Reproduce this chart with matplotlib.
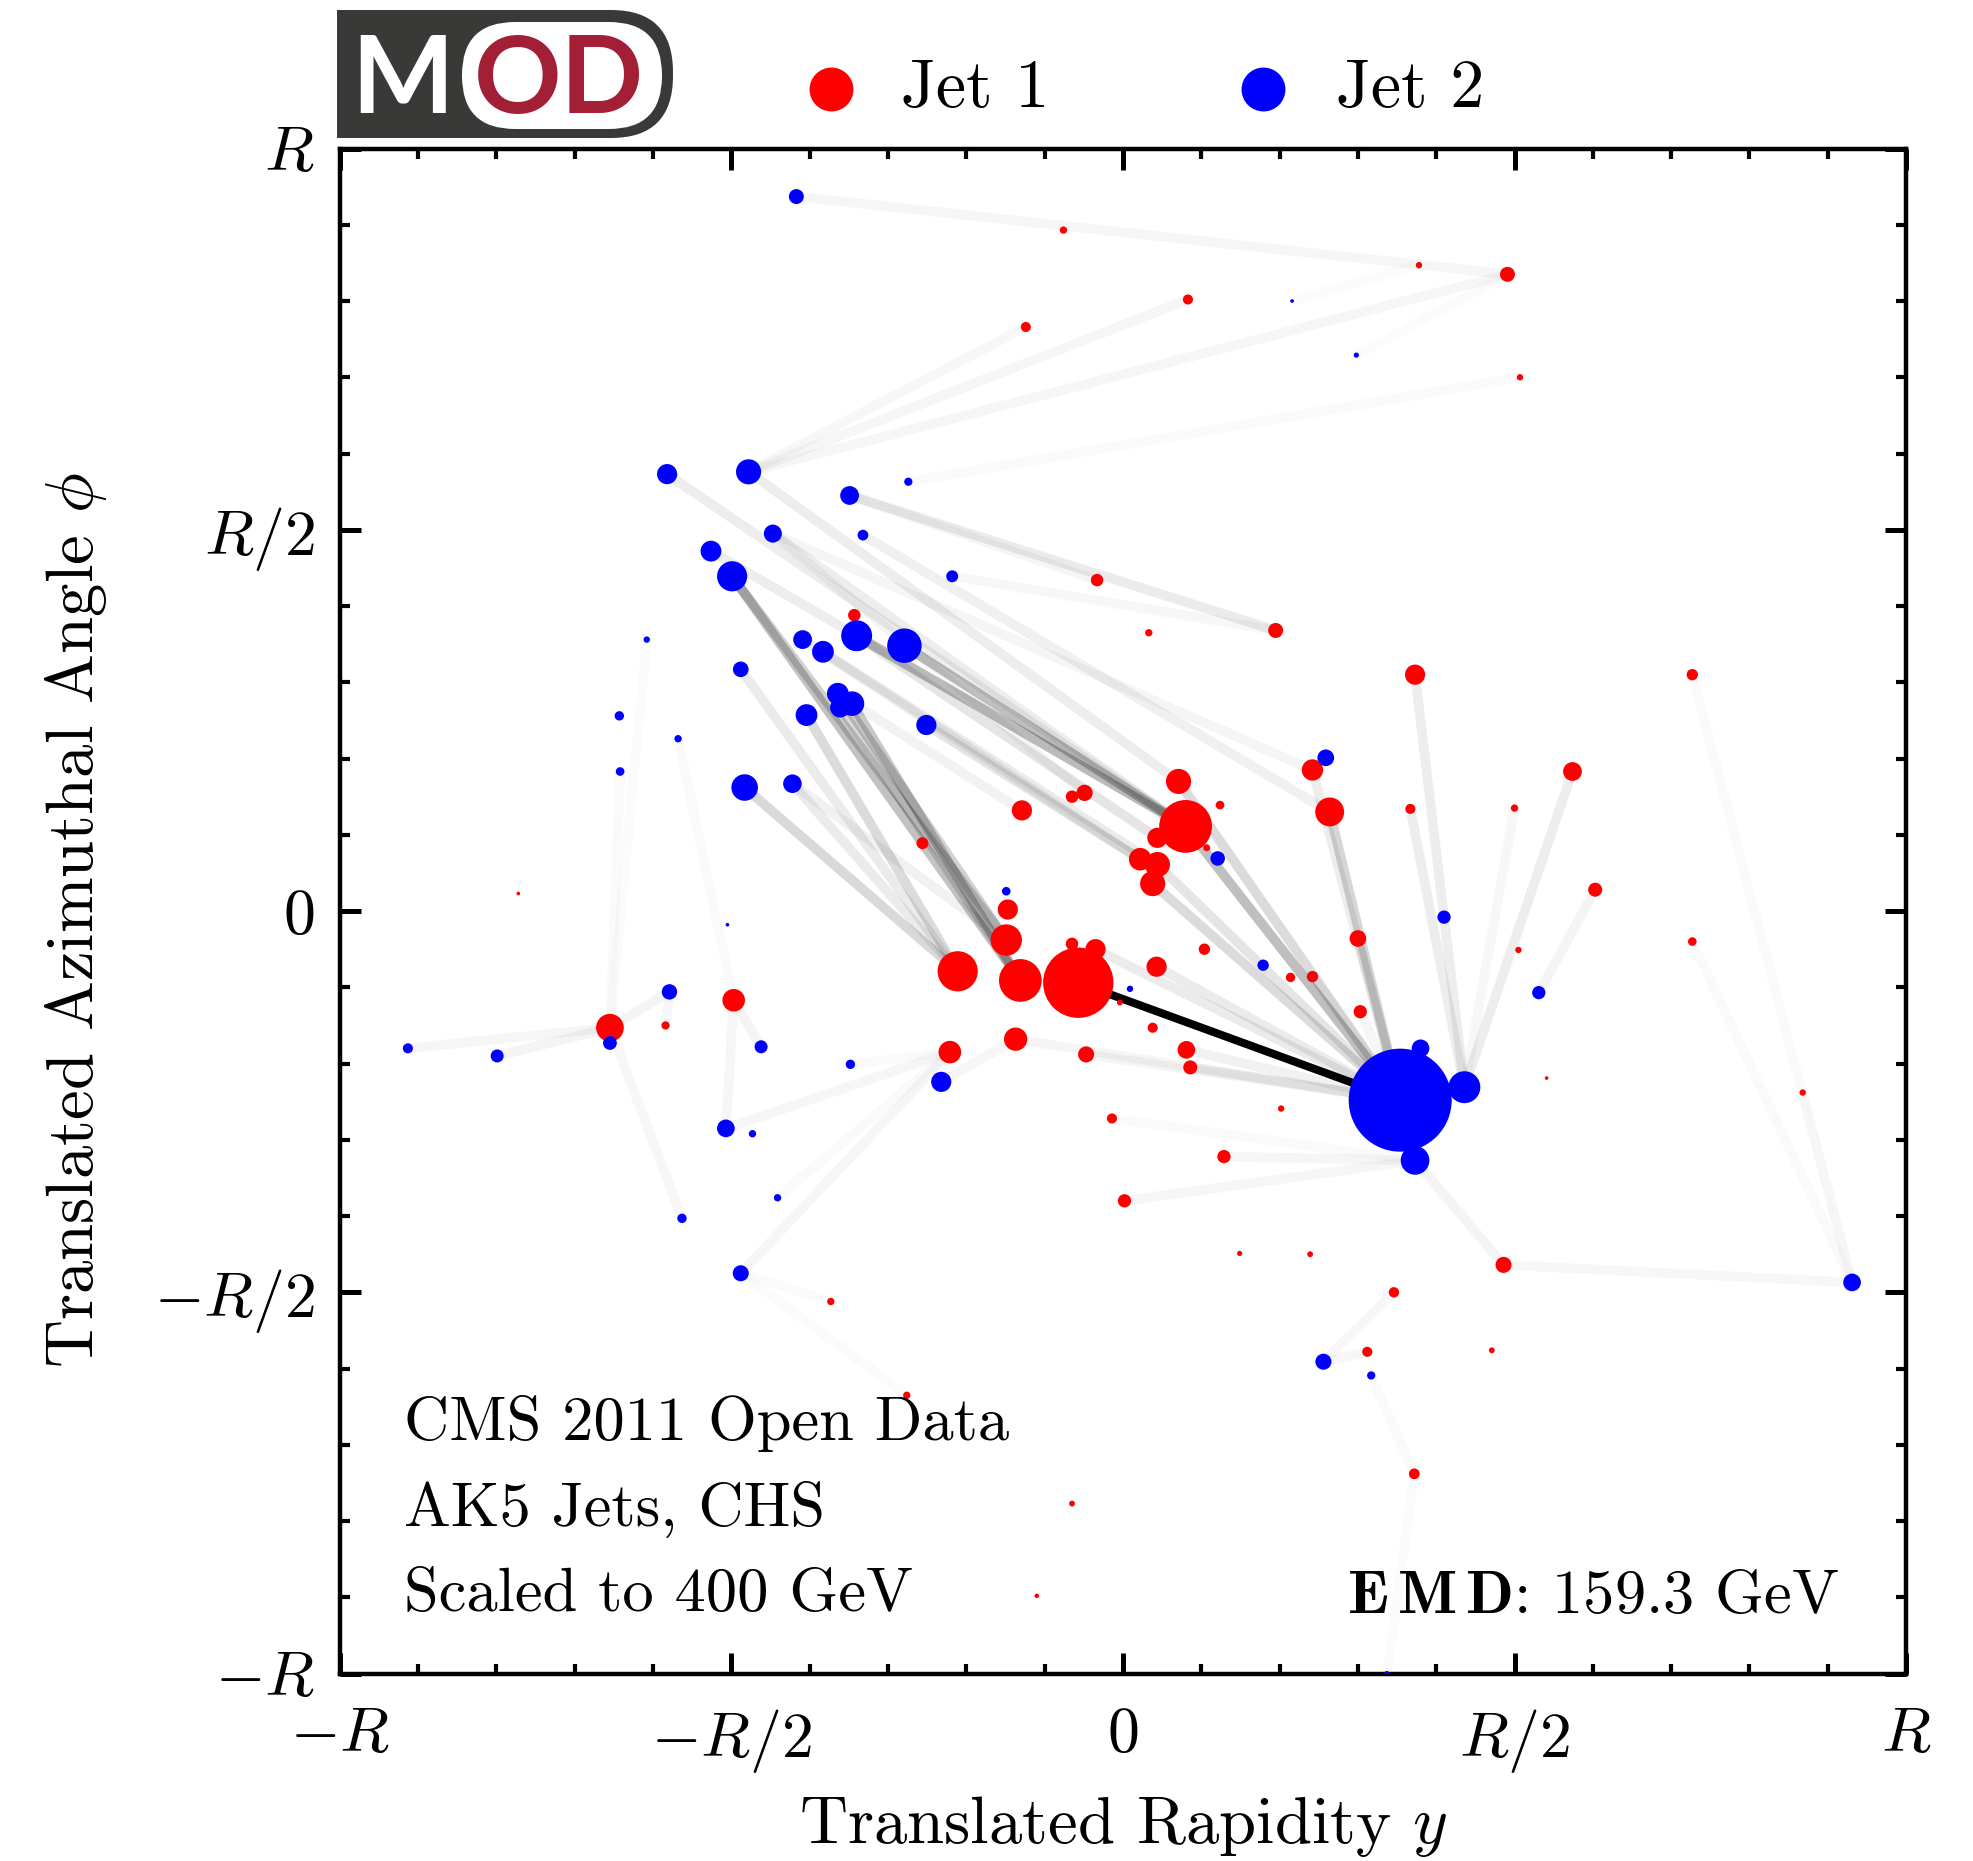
import matplotlib.pyplot as plt
from matplotlib.lines import Line2D
from matplotlib.patches import FancyBboxPatch, Rectangle
from matplotlib.ticker import MultipleLocator

plt.rcParams['font.family'] = 'serif'
plt.rcParams['font.serif'] = ['cmr10']
plt.rcParams['mathtext.fontset'] = 'cm'
plt.rcParams['axes.unicode_minus'] = False

# jet 1 particles (rapidity, azimuth in units of R, pT in GeV)
j1_y = [-0.076, 0.378, 0.491, 0.083, -0.124, 0.507, -0.033, 0.033, 0.195, -0.343,
        0.373, 0.727, 0.242, 0.574, 0.071, 0.264, 0.080, 0.044, -0.065, -0.049,
        0.124, 0.022, 0.044, 0.038, 0.107, -0.129, -0.147, -0.149, -0.211, -0.131,
        -0.057, -0.065, -0.035, 0.043, 0.104, 0.214, 0.242, 0.300, 0.303, 0.367,
        -0.004, 0.038, 0.081, 0.086, -0.047, -0.137, -0.221, 0.202, -0.014, 0.129,
        0.002, -0.256, 0.603, 0.505, 0.727, 0.541, 0.239, 0.486, 0.346, 0.149,
        0.312, 0.471, 0.372, -0.276, -0.065, -0.110, -0.772, -0.655, -0.584, -0.497,
        -0.373, 0.868, 0.500]
j1_phi = [0.893, 0.847, 0.835, 0.802, 0.766, 0.700, 0.434, 0.365, 0.368, 0.388,
          0.310, 0.310, 0.185, 0.183, 0.170, 0.130, 0.111, 0.096, 0.150, 0.155,
          0.139, 0.068, 0.061, 0.036, 0.083, 0.132, 0.002, -0.038, -0.079, -0.091,
          -0.094, -0.043, -0.050, -0.073, -0.050, -0.087, -0.086, -0.036, -0.132, 0.134,
          -0.120, -0.153, -0.182, -0.205, -0.188, -0.168, -0.185, -0.259, -0.272, -0.322,
          -0.380, 0.089, 0.028, -0.051, -0.040, -0.219, -0.450, -0.464, -0.500, -0.449,
          -0.578, -0.576, -0.738, -0.635, -0.777, -0.898, 0.023, -0.153, -0.150, -0.117,
          -0.512, -0.238, 0.135]
j1_pt = [0.8, 0.6, 3.3, 1.5, 1.5, 0.6, 2.3, 0.8, 3.3, 2.3,
         6.0, 1.9, 6.7, 5.2, 9.3, 12.3, 41.0, 6.0, 2.3, 3.9,
         1.1, 7.5, 9.3, 9.3, 0.7, 6.0, 6.0, 14.5, 23.8, 26.9,
         72.9, 2.3, 6.0, 6.0, 1.9, 1.3, 1.9, 4.1, 2.6, 1.5,
         0.5, 1.5, 4.6, 2.9, 3.8, 8.0, 7.5, 0.6, 1.5, 2.6,
         2.6, 2.1, 2.9, 0.6, 1.1, 0.2, 0.5, 3.8, 1.6, 0.4,
         1.5, 0.5, 1.7, 0.8, 0.5, 0.3, 0.2, 11.3, 1.0, 7.5,
         0.8, 0.6, 0.8]

# jet 2 particles
j2_y = [-0.417, -0.582, -0.478, -0.349, -0.274, -0.447, -0.332, -0.526, -0.499, -0.218,
        -0.608, -0.409, -0.383, -0.340, -0.279, -0.488, -0.643, -0.568, -0.642, -0.364,
        -0.346, -0.361, -0.404, -0.251, -0.483, -0.422, -0.149, 0.259, 0.121, 0.410,
        0.179, 0.009, 0.354, 0.373, 0.380, 0.436, 0.531, -0.232, -0.913, -0.799,
        -0.655, -0.579, -0.505, -0.462, -0.348, -0.507, -0.473, -0.441, -0.563, -0.488,
        0.256, 0.317, 0.337, 0.216, 0.298, 0.931]
j2_phi = [0.937, 0.573, 0.576, 0.545, 0.563, 0.495, 0.493, 0.472, 0.439, 0.439,
          0.356, 0.356, 0.340, 0.361, 0.348, 0.317, 0.256, 0.226, 0.183, 0.285,
          0.272, 0.267, 0.257, 0.244, 0.162, 0.167, 0.026, 0.201, 0.069, -0.008,
          -0.071, -0.102, -0.248, -0.327, -0.180, -0.231, -0.107, -0.224, -0.180, -0.190,
          -0.173, -0.106, -0.018, -0.178, -0.201, -0.285, -0.292, -0.376, -0.403, -0.475,
          -0.591, -0.609, -1.0, 0.800, 0.729, -0.487]
j2_pt = [3.3, 6.0, 9.3, 5.2, 1.0, 4.8, 1.7, 6.4, 13.4, 2.1,
         0.6, 5.2, 7.0, 14.1, 17.5, 3.6, 1.3, 0.8, 1.1, 7.0,
         8.9, 6.0, 7.0, 6.0, 10.4, 5.1, 1.1, 4.1, 3.1, 2.6,
         1.9, 0.6, 156.3, 12.1, 4.6, 15.0, 2.6, 6.0, 1.5, 2.5,
         2.8, 3.5, 0.2, 2.5, 1.3, 4.6, 0.8, 0.8, 1.3, 3.8,
         3.8, 1.0, 0.4, 0.2, 0.4, 4.6]

# EMD flows: jet 1 index, jet 2 index, relative flow
flow_j1 = [30, 2, 2, 3, 4, 5, 1, 8, 6, 8, 14, 16, 16, 16, 16, 16, 12, 15, 29, 27,
           29, 27, 29, 28, 28, 28, 28, 21, 22, 21, 17, 25, 16, 14, 23, 22, 32, 33, 15, 12,
           37, 42, 43, 44, 45, 36, 38, 10, 39, 13, 72, 52, 49, 50, 48, 57, 57, 11, 54, 71,
           58, 60, 62, 62, 45, 46, 46, 46, 46, 67, 67, 67, 67, 67, 67, 68, 69, 69, 69, 63,
           70, 19, 27, 2]
flow_j2 = [32, 0, 2, 2, 2, 4, 53, 3, 3, 9, 2, 1, 13, 14, 5, 7, 5, 6, 8, 8,
           20, 19, 21, 22, 15, 25, 24, 23, 12, 11, 13, 19, 32, 32, 32, 32, 32, 32, 32, 32,
           32, 32, 32, 32, 32, 32, 32, 35, 35, 35, 35, 36, 33, 33, 33, 33, 55, 55, 55, 55,
           50, 50, 51, 52, 37, 45, 49, 47, 44, 38, 39, 41, 48, 18, 10, 41, 17, 43, 45, 49,
           49, 5, 25, 54]
flow_w = [1.0, 0.035, 0.035, 0.035, 0.03, 0.02, 0.015, 0.08, 0.04, 0.03,
          0.07, 0.07, 0.21, 0.25, 0.07, 0.07, 0.04, 0.06, 0.24, 0.18,
          0.22, 0.18, 0.14, 0.14, 0.08, 0.08, 0.15, 0.10, 0.08, 0.07,
          0.10, 0.05, 0.25, 0.14, 0.14, 0.10, 0.08, 0.08, 0.16, 0.07,
          0.08, 0.055, 0.055, 0.04, 0.04, 0.035, 0.035, 0.07, 0.07, 0.07,
          0.03, 0.045, 0.035, 0.035, 0.02, 0.045, 0.03, 0.02, 0.02, 0.015,
          0.03, 0.03, 0.02, 0.015, 0.035, 0.035, 0.035, 0.02, 0.02, 0.035,
          0.045, 0.045, 0.03, 0.02, 0.015, 0.03, 0.02, 0.045, 0.035, 0.015,
          0.02, 0.04, 0.055, 0.015]

emd = 159.3
tick_vals = [-1, -0.5, 0, 0.5, 1]
tick_labels = [r'$-R$', r'$-R/2$', r'$0$', r'$R/2$', r'$R$']

fig = plt.figure(figsize=(9.865, 9.305), dpi=200)
ax = fig.add_axes([0.1722, 0.1007, 0.7939, 0.8195])

for k in sorted(range(len(flow_w)), key=lambda k: flow_w[k]):
    i, j = flow_j1[k], flow_j2[k]
    ax.plot([j1_y[i], j2_y[j]], [j1_phi[i], j2_phi[j]], color='k',
            alpha=flow_w[k], lw=3.5 if flow_w[k] < 1 else 2.9,
            solid_capstyle='butt', zorder=1)

zs = 8.8
ax.scatter(j1_y, j1_phi, s=[p * zs for p in j1_pt], color='#ff0000', lw=0, zorder=2)
ax.scatter(j2_y, j2_phi, s=[p * zs for p in j2_pt], color='#0000ff', lw=0, zorder=3)

ax.set_xlim(-1, 1)
ax.set_ylim(-1, 1)
ax.set_xticks(tick_vals, tick_labels)
ax.set_yticks(tick_vals, tick_labels)
ax.xaxis.set_minor_locator(MultipleLocator(0.1))
ax.yaxis.set_minor_locator(MultipleLocator(0.1))
ax.tick_params(which='both', direction='in', top=True, right=True, labelsize=23)
ax.tick_params(which='major', length=7.7, width=1.8)
ax.tick_params(which='minor', length=3.6, width=1.5)
ax.tick_params(axis='x', which='major', pad=12)
ax.tick_params(axis='y', which='major', pad=9)
for sp in ax.spines.values():
    sp.set_linewidth(1.6)

ax.set_xlabel('Translated Rapidity $y$', fontsize=24)
ax.set_ylabel(r'Translated Azimuthal Angle $\phi$', fontsize=24)
ax.xaxis.set_label_coords(0.5, -0.079)
ax.yaxis.set_label_coords(-0.147, 0.494)

ax.text(0.041, 0.153, 'CMS 2011 Open Data', transform=ax.transAxes, fontsize=22.5)
ax.text(0.041, 0.097, 'AK5 Jets, CHS', transform=ax.transAxes, fontsize=22.5)
ax.text(0.041, 0.041, 'Scaled to 400 GeV', transform=ax.transAxes, fontsize=22.5)
ax.text(0.957, 0.040, r'$\mathbf{E\,M\,D}$: %.1f GeV' % emd, transform=ax.transAxes,
        fontsize=22.5, ha='right')

# legend above the axes
for xm, xt, c, lab in [(0.421, 0.4567, '#ff0000', 'Jet 1'), (0.640, 0.677, '#0000ff', 'Jet 2')]:
    fig.add_artist(Line2D([xm], [0.952], marker='o', ls='', color=c, markersize=15.8,
                          markeredgewidth=0, transform=fig.transFigure))
    fig.text(xt, 0.9425, lab, fontsize=24.5, va='baseline')

# MOD logo
dark = '#393a37'
maroon = '#a21f35'
lg = fig.add_axes([337 / 1973, 1 - 138 / 1861, 336 / 1973, 128 / 1861])
lg.set_xlim(0, 336)
lg.set_ylim(0, 128)
lg.axis('off')
lg.add_patch(Rectangle((0, 0), 160, 128, fc=dark, ec='none'))
lg.add_patch(FancyBboxPatch((0, 0), 336, 128, boxstyle='round,pad=0,rounding_size=62',
                            fc=dark, ec='none'))
lg.add_patch(FancyBboxPatch((125, 9), 200, 107, boxstyle='round,pad=0,rounding_size=53',
                            fc='white', ec='none'))
lg.text(65, 25, 'M', color='white', fontsize=39, fontweight='bold',
        family='Lato', ha='center', va='baseline')
lg.text(222, 25, 'OD', color=maroon, fontsize=39, fontweight='bold',
        family='Lato', ha='center', va='baseline')

fig.savefig('out.png', dpi=200)
